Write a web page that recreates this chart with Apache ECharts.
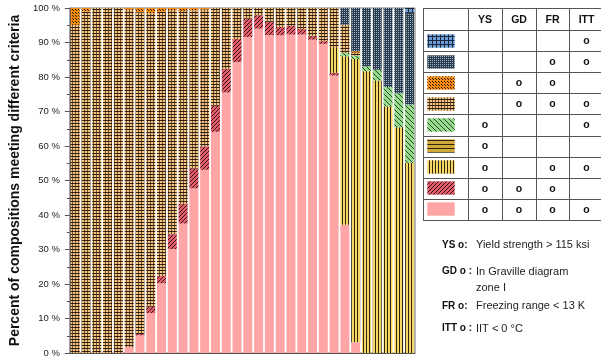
<!DOCTYPE html>
<html>
<head>
<meta charset="utf-8">
<script src="https://cdn.jsdelivr.net/npm/echarts@6/dist/echarts.min.js"></script>
<style>
  html, body { margin: 0; padding: 0; background: #ffffff; }
  #chart { width: 601px; height: 359px; }
</style>
</head>
<body>
<div id="chart"></div>
<script>
// Composition bins along the x axis (labels are not shown)
const categories = ['1','2','3','4','5','6','7','8','9','10','11','12','13','14','15','16',
                    '17','18','19','20','21','22','23','24','25','26','27','28','29','30','31','32'];

// Share (%) of compositions per criteria combination, stacked bottom to top
const ysGdFrItt = [0,0,0,0,0,1.7,5.1,11.6,20.2,30.1,37.5,47.7,53.1,64.1,75.5,84.3,
                   91.6,94.0,92.1,92.1,92.3,92.3,90.8,89.6,80.4,37.2,3.1,0,0,0,0,0];
const ysGdFr    = [0,0,0,0,0,0,0.4,1.8,2.1,4.3,5.7,5.8,6.8,7.6,6.8,6.7,
                   5.3,3.9,3.9,2.4,2.5,1.6,1.0,0.8,0.8,0,0,0,0,0,0,0];
const ysFrItt   = [0,0,0,0,0,0,0,0,0,0,0,0,0,0,0,0,
                   0,0,0,0,0,0,0,0,7.2,48.8,82.1,81.7,79.0,71.5,65.4,55.1];
const ysOnly    = [0,0,0,0,0,0,0,0,0,0,0,0,0,0,0,0,
                   0,0,0,0,0,0,0,0,0,0,0,0,0,0,0,0];
const ysItt     = [0,0,0,0,0,0,0,0,0,0,0,0,0,0,0,0,
                   0,0,0,0,0,0,0,0,0,1.0,1.0,1.4,3.1,5.6,9.9,16.9];
const gdFrItt   = [95,99,100,100,100,97.8,93.3,85.1,76.6,65.0,55.9,45.8,39.7,28.3,17.7,9.0,
                   3.1,2.1,4.0,5.5,5.2,6.1,8.2,9.6,11.6,8.2,0.8,0,0,0,0,0];
const gdFr      = [5,1,0,0,0,0.5,1.2,1.5,1.1,0.6,0.9,0.7,0.4,0,0,0,
                   0,0,0,0,0,0,0,0,0,0,0.5,0,0,0,0,0];
const frItt     = [0,0,0,0,0,0,0,0,0,0,0,0,0,0,0,0,
                   0,0,0,0,0,0,0,0,0,4.8,12.5,16.9,17.9,22.9,24.7,26.6];
const ittOnly   = [0,0,0,0,0,0,0,0,0,0,0,0,0,0,0,0,
                   0,0,0,0,0,0,0,0,0,0,0,0,0,0,0,1.4];

// Y axis ticks
const yTicks = [0,10,20,30,40,50,60,70,80,90,100];

// Criteria columns and their explanations
const criteria = ['YS','GD','FR','ITT'];
const noteKeys = ['YS o:','GD o :','FR o:','ITT o :'];
const noteTexts = ['Yield strength > 115 ksi','In Graville diagram\nzone I','Freezing range < 13 K','IIT < 0 \u00B0C'];

const FONT = '"Liberation Sans", Arial, sans-serif';

// ---- fill patterns -------------------------------------------------------
function tile(w, h, bg, draw) {
  const c = document.createElement('canvas');
  c.width = w; c.height = h;
  const g = c.getContext('2d');
  g.fillStyle = bg; g.fillRect(0, 0, w, h);
  draw(g);
  return { image: c, repeat: 'repeat' };
}
function px(g, color, pts) {
  g.fillStyle = color;
  pts.forEach(p => g.fillRect(p[0], p[1], 1, 1));
}

const fills = {
  pink:   '#ffa5a5',
  red:    tile(4, 4, '#e45c6a', g => px(g, '#34161a', [[3,0],[2,1],[1,2],[0,3]])),
  yVert:  tile(3, 1, '#f7d866', g => px(g, '#2e250c', [[0,0]])),
  yHoriz: tile(1, 4, '#d2a83a', g => px(g, '#2e250c', [[0,0]])),
  green:  tile(5, 5, '#96dc8c', g => px(g, '#2a472a', [[0,0],[1,1],[2,2],[3,3],[4,4]])),
  brown:  tile(3, 3, '#f3c484', g => {
            px(g, '#7a5630', [[0,1],[0,2]]);
            px(g, '#2e2012', [[0,0],[1,0],[2,0]]);
          }),
  orange: tile(3, 3, '#f68c14', g => px(g, '#2e1a06', [[1,1],[0,0]])),
  bDots:  tile(2, 2, '#2f3a46', g => px(g, '#94bade', [[0,0]])),
  bGrid:  tile(4, 4, '#6a9ed8', g => {
            g.fillStyle = '#1a273a';
            g.fillRect(0, 0, 4, 1); g.fillRect(0, 0, 1, 4);
          })
};

// Series, stacked bottom to top; the name lists the criteria met
const seriesDefs = [
  { name: 'YS GD FR ITT', data: ysGdFrItt, fill: fills.pink },
  { name: 'YS GD FR',     data: ysGdFr,    fill: fills.red },
  { name: 'YS FR ITT',    data: ysFrItt,   fill: fills.yVert },
  { name: 'YS',           data: ysOnly,    fill: fills.yHoriz },
  { name: 'YS ITT',       data: ysItt,     fill: fills.green },
  { name: 'GD FR ITT',    data: gdFrItt,   fill: fills.brown },
  { name: 'GD FR',        data: gdFr,      fill: fills.orange },
  { name: 'FR ITT',       data: frItt,     fill: fills.bDots },
  { name: 'ITT',          data: ittOnly,   fill: fills.bGrid }
];

// ---- criteria table (legend) ----------------------------------------------
const tbl = { colX: [423, 468, 502, 536, 569, 604], top: 8, headH: 22, rowH: 21.1 };
const graphics = [];
const lineStyle = { stroke: '#555', lineWidth: 1 };
const nRows = seriesDefs.length;
const bottom = tbl.top + tbl.headH + nRows * tbl.rowH;
// horizontal rules
for (let r = 0; r <= nRows + 1; r++) {
  const y = Math.round(r === 0 ? tbl.top : tbl.top + tbl.headH + (r - 1) * tbl.rowH) + 0.5;
  graphics.push({ type: 'line', silent: true, shape: { x1: tbl.colX[0], y1: y, x2: 601, y2: y }, style: lineStyle });
}
// vertical rules
tbl.colX.slice(0, 5).forEach(x => {
  graphics.push({ type: 'line', silent: true, shape: { x1: x + 0.5, y1: tbl.top, x2: x + 0.5, y2: Math.round(bottom) + 0.5 }, style: lineStyle });
});
const colCenter = i => (tbl.colX[i] + tbl.colX[i + 1]) / 2;
criteria.forEach((c, i) => {
  graphics.push({ type: 'text', silent: true, x: colCenter(i + 1), y: tbl.top + tbl.headH / 2 + 1,
    style: { text: c, fill: '#111', font: 'bold 10.5px ' + FONT, align: 'center', verticalAlign: 'middle' } });
});
// rows listed top to bottom (reverse of stacking)
seriesDefs.slice().reverse().forEach((s, r) => {
  const yTop = tbl.top + tbl.headH + r * tbl.rowH;
  graphics.push({ type: 'rect', silent: true,
    shape: { x: 427, y: Math.round(yTop + 3.5), width: 28, height: 14 },
    style: { fill: s.fill, stroke: 'rgba(255,255,255,0.6)', lineWidth: 1 } });
  const met = s.name.split(' ');
  criteria.forEach((c, i) => {
    if (met.indexOf(c) >= 0) {
      graphics.push({ type: 'text', silent: true, x: colCenter(i + 1), y: yTop + tbl.rowH / 2 + 0.5,
        style: { text: 'o', fill: '#111', font: 'bold 10.5px ' + FONT, align: 'center', verticalAlign: 'middle' } });
    }
  });
});
// criteria explanations
const noteY = [245, 271.5, 306, 328.5];
noteKeys.forEach((k, i) => {
  graphics.push({ type: 'text', silent: true, x: 442, y: noteY[i],
    style: { text: k, fill: '#111', font: 'bold 10px ' + FONT, align: 'left', verticalAlign: 'middle' } });
  graphics.push({ type: 'text', silent: true, x: 476, y: noteY[i] - 8,
    style: { text: noteTexts[i], fill: '#222', font: '11px ' + FONT, align: 'left', verticalAlign: 'top', lineHeight: 16.5 } });
});

// ---- chart ---------------------------------------------------------------
const chart = echarts.init(document.getElementById('chart'), null, { renderer: 'canvas' });
const axisColor = '#555';
chart.setOption({
  animation: false,
  backgroundColor: '#ffffff',
  grid: { left: 66, top: 8, width: 349, height: 345, show: true, borderColor: '#777', borderWidth: 1, containLabel: false },
  xAxis: [
    { type: 'category', data: categories, position: 'bottom',
      axisLine: { lineStyle: { color: axisColor } },
      axisTick: { interval: 1, length: 3, lineStyle: { color: axisColor } },
      axisLabel: { show: false }, splitLine: { show: false } },
    { type: 'category', data: categories, position: 'bottom',
      axisLine: { show: false },
      axisTick: { interval: 3, length: 6, lineStyle: { color: axisColor } },
      axisLabel: { show: false }, splitLine: { show: false } }
  ],
  yAxis: {
    type: 'value', min: yTicks[0], max: yTicks[yTicks.length - 1], interval: yTicks[1] - yTicks[0],
    name: 'Percent of compositions meeting different criteria',
    nameLocation: 'middle', nameRotate: 90, nameGap: 46,
    nameTextStyle: { fontFamily: FONT, fontWeight: 'bold', fontSize: 14, color: '#111' },
    axisLine: { show: true, lineStyle: { color: axisColor } },
    axisTick: { show: true, length: 5, lineStyle: { color: axisColor } },
    minorTick: { show: true, splitNumber: 2, length: 3, lineStyle: { color: axisColor } },
    splitLine: { show: false },
    axisLabel: { formatter: '{value} %', fontFamily: FONT, fontSize: 9.5, color: '#222', margin: 10 }
  },
  series: seriesDefs.map(s => ({
    name: s.name, type: 'bar', stack: 'total', xAxisIndex: 0,
    barWidth: 9, data: s.data,
    itemStyle: { color: s.fill },
    emphasis: { disabled: true }, silent: true
  })),
  graphic: graphics
});
</script>
</body>
</html>
